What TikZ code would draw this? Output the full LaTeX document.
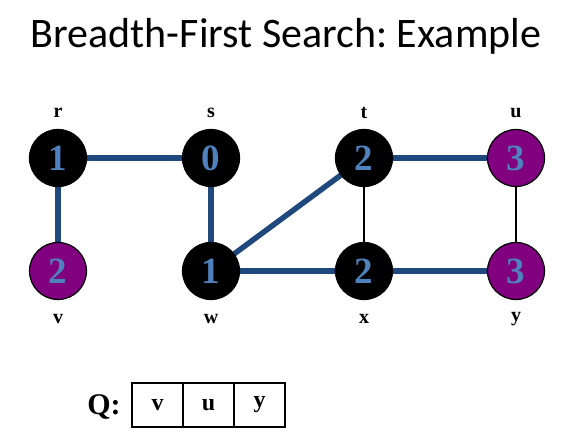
\documentclass[tikz,border=0pt]{standalone}
\usepackage{fontspec}
\setmainfont{Liberation Serif}
\newfontfamily\titlefont{Carlito}
\definecolor{edgeblue}{RGB}{31,73,125}
\definecolor{numblue}{RGB}{79,129,189}
\definecolor{vpurple}{RGB}{128,0,128}
\frenchspacing
\begin{document}
\begin{tikzpicture}[x=1pt,y=-1pt,
  vert/.style={circle,draw=black,line width=1.2pt,minimum size=57pt,inner sep=0pt,
    text=numblue,font=\fontsize{37}{37}\selectfont\bfseries},
  blk/.style={vert,fill=black},
  pur/.style={vert,fill=vpurple},
  lab/.style={font=\fontsize{20}{20}\selectfont\bfseries},
  tree/.style={draw=edgeblue,line width=5.5pt},
  thin/.style={draw=black,line width=1.2pt},
  cell/.style={draw=black,line width=1.2pt,minimum width=51pt,minimum height=44pt,inner sep=0pt,
    font=\fontsize{24}{24}\selectfont\bfseries},
  qlab/.style={font=\fontsize{30}{30}\selectfont\bfseries}]
\useasboundingbox (0,0) rectangle (573,444);
\node[font=\titlefont\fontsize{42}{42}\selectfont] (title) at (286,36) {Breadth-First Search: Example};
\coordinate (cr) at (58,158);
\coordinate (cs) at (211,158);
\coordinate (ct) at (364,158);
\coordinate (cu) at (516,158);
\coordinate (cv) at (58,271);
\coordinate (cw) at (211,271);
\coordinate (cx) at (364,271);
\coordinate (cy) at (516,271);
\draw[tree] (cr) -- (cs);
\draw[tree] (cr) -- (cv);
\draw[tree] (cs) -- (cw);
\draw[tree] (cw) -- (ct);
\draw[tree] (cw) -- (cx);
\draw[tree] (ct) -- (cu);
\draw[tree] (cx) -- (cy);
\draw[thin] (ct) -- (cx);
\draw[thin] (cu) -- (cy);
\node[blk] (r) at (cr) {1};
\node[blk] (s) at (cs) {0};
\node[blk] (t) at (ct) {2};
\node[pur] (u) at (cu) {3};
\node[pur] (v) at (cv) {2};
\node[blk] (w) at (cw) {1};
\node[blk] (x) at (cx) {2};
\node[pur] (y) at (cy) {3};
\node[lab] (lr) at (58,113) {r};
\node[lab] (ls) at (211,113) {s};
\node[lab] (lt) at (364,113) {t};
\node[lab] (lu) at (516,113) {u};
\node[lab] (lv) at (58,319) {v};
\node[lab] (lw) at (211,319) {w};
\node[lab] (lx) at (364,319) {x};
\node[lab] (ly) at (516,319) {y};
\node[cell] (q1) at (157.5,405) {v};
\node[cell] (q2) at (208.5,405) {u};
\node[cell] (q3) at (259.5,405) {y};
\node[qlab] (q) at (104,407) {Q:};
\end{tikzpicture}
\end{document}
